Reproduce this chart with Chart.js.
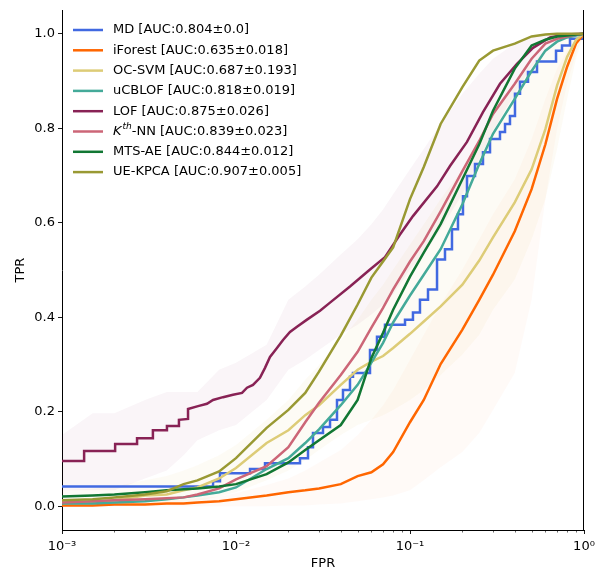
<!DOCTYPE html>
<html>
<head>
<meta charset="utf-8">
<script src="https://cdn.jsdelivr.net/npm/chart.js@4.4.1/dist/chart.umd.min.js"></script>
<style>
  html, body { margin: 0; padding: 0; background: #fff; }
  #wrap { width: 595px; height: 571px; position: relative; }
</style>
</head>
<body>
<div id="wrap"><canvas id="roc"></canvas></div>
<script>
// shared FPR grid for the smooth curves
const fprGrid = [0.001, 0.0015, 0.002, 0.003, 0.004, 0.005, 0.006, 0.008, 0.01, 0.015, 0.02, 0.025, 0.03, 0.04, 0.05, 0.06, 0.07, 0.08, 0.1, 0.12, 0.15, 0.2, 0.25, 0.3, 0.4, 0.5, 0.6, 0.7, 0.8, 0.9, 1.0];

const tprIForest = [0.002, 0.002, 0.004, 0.004, 0.006, 0.006, 0.008, 0.011, 0.015, 0.023, 0.030, 0.034, 0.038, 0.047, 0.064, 0.072, 0.089, 0.115, 0.178, 0.225, 0.301, 0.374, 0.437, 0.490, 0.582, 0.671, 0.766, 0.862, 0.930, 0.979, 1.0];
const tprOcsvm = [0.008, 0.008, 0.013, 0.023, 0.025, 0.034, 0.040, 0.059, 0.081, 0.134, 0.161, 0.193, 0.214, 0.257, 0.289, 0.306, 0.318, 0.335, 0.365, 0.391, 0.423, 0.469, 0.520, 0.569, 0.643, 0.713, 0.798, 0.890, 0.951, 0.987, 1.0];
const tprUcblof = [0.006, 0.006, 0.008, 0.011, 0.015, 0.019, 0.023, 0.030, 0.040, 0.079, 0.102, 0.134, 0.163, 0.214, 0.257, 0.304, 0.346, 0.389, 0.446, 0.490, 0.544, 0.639, 0.724, 0.788, 0.862, 0.921, 0.964, 0.983, 0.992, 0.996, 1.0];
const tprKnn = [0.008, 0.011, 0.013, 0.015, 0.017, 0.019, 0.025, 0.038, 0.057, 0.085, 0.125, 0.178, 0.219, 0.278, 0.327, 0.378, 0.420, 0.459, 0.518, 0.561, 0.624, 0.709, 0.773, 0.830, 0.894, 0.947, 0.979, 0.989, 0.994, 0.998, 1.0];
const tprMtsae = [0.021, 0.023, 0.025, 0.030, 0.034, 0.036, 0.038, 0.042, 0.047, 0.068, 0.093, 0.119, 0.140, 0.172, 0.225, 0.314, 0.367, 0.416, 0.486, 0.537, 0.597, 0.692, 0.766, 0.837, 0.926, 0.975, 0.987, 0.994, 0.996, 0.998, 1.0];
const tprUekpca = [0.013, 0.015, 0.019, 0.025, 0.032, 0.047, 0.055, 0.074, 0.102, 0.166, 0.204, 0.240, 0.285, 0.361, 0.427, 0.484, 0.518, 0.548, 0.650, 0.718, 0.809, 0.887, 0.943, 0.964, 0.979, 0.994, 0.998, 1.0, 1.0, 1.0, 1.0];

// staircase curves have their own points
const fprMd = [0.001, 0.00738, 0.00809, 0.01204, 0.01468, 0.02332, 0.02593, 0.0277, 0.03162, 0.0347, 0.03806, 0.0412, 0.0452, 0.04703, 0.0589, 0.06461, 0.0718, 0.09361, 0.104, 0.1141, 0.1269, 0.143, 0.1589, 0.1743, 0.1887, 0.2016, 0.2126, 0.2364, 0.2627, 0.2883, 0.329, 0.3516, 0.3755, 0.4012, 0.4288, 0.4767, 0.537, 0.6905, 0.7474, 0.8308, 1.0];
const tprMd = [0.042, 0.053, 0.070, 0.079, 0.091, 0.102, 0.125, 0.155, 0.168, 0.183, 0.225, 0.246, 0.274, 0.282, 0.331, 0.359, 0.384, 0.395, 0.410, 0.437, 0.459, 0.522, 0.544, 0.586, 0.618, 0.656, 0.699, 0.724, 0.749, 0.777, 0.792, 0.809, 0.826, 0.873, 0.898, 0.919, 0.941, 0.964, 0.975, 0.989, 1.0];

const fprLof = [0.001, 0.00134, 0.00134, 0.00202, 0.00202, 0.0027, 0.0027, 0.00333, 0.00333, 0.00401, 0.00401, 0.0047, 0.0047, 0.0053, 0.0053, 0.00605, 0.00681, 0.00738, 0.00842, 0.00961, 0.01083, 0.01157, 0.01252, 0.01373, 0.01468, 0.01568, 0.0172, 0.01863, 0.02043, 0.02242, 0.02559, 0.0304, 0.0347, 0.0452, 0.0589, 0.0718, 0.0876, 0.104, 0.143, 0.1698, 0.2126, 0.2627, 0.329, 0.412, 0.5093, 0.6377, 0.7779, 1.0];
const tprLof = [0.096, 0.096, 0.117, 0.117, 0.132, 0.132, 0.144, 0.144, 0.161, 0.161, 0.170, 0.170, 0.183, 0.185, 0.206, 0.212, 0.217, 0.225, 0.231, 0.236, 0.240, 0.251, 0.257, 0.272, 0.293, 0.316, 0.335, 0.352, 0.369, 0.380, 0.395, 0.414, 0.431, 0.465, 0.501, 0.527, 0.575, 0.614, 0.677, 0.720, 0.771, 0.834, 0.894, 0.936, 0.970, 0.992, 0.998, 1.0];

// +/- std bands (on fprGrid)
const lofUpper = [0.151, 0.197, 0.197, 0.225, 0.242, 0.242, 0.242, 0.289, 0.304, 0.342, 0.437, 0.465, 0.490, 0.533, 0.565, 0.597, 0.628, 0.660, 0.713, 0.756, 0.809, 0.873, 0.915, 0.947, 0.979, 0.994, 0.998, 1, 1, 1, 1];
const lofLower = [0.034, 0.034, 0.034, 0.059, 0.076, 0.108, 0.140, 0.161, 0.172, 0.225, 0.289, 0.310, 0.331, 0.363, 0.384, 0.406, 0.427, 0.448, 0.501, 0.533, 0.586, 0.660, 0.735, 0.794, 0.873, 0.930, 0.964, 0.981, 0.992, 0.998, 1];
const iforestUpper = [0.006, 0.006, 0.008, 0.011, 0.013, 0.015, 0.017, 0.021, 0.028, 0.045, 0.059, 0.076, 0.093, 0.119, 0.151, 0.183, 0.214, 0.246, 0.310, 0.363, 0.427, 0.501, 0.565, 0.618, 0.692, 0.777, 0.862, 0.926, 0.964, 0.989, 1];
const iforestLower = [0, 0, 0, 0, 0, 0, 0, 0, 0, 0, 0.002, 0.002, 0.004, 0.006, 0.011, 0.015, 0.019, 0.023, 0.034, 0.055, 0.083, 0.115, 0.155, 0.204, 0.282, 0.437, 0.650, 0.798, 0.894, 0.958, 1];
const ocsvmUpper = [0.034, 0.038, 0.042, 0.055, 0.064, 0.076, 0.087, 0.108, 0.130, 0.183, 0.225, 0.268, 0.299, 0.352, 0.395, 0.437, 0.469, 0.501, 0.554, 0.597, 0.650, 0.713, 0.777, 0.830, 0.894, 0.936, 0.968, 0.985, 0.994, 0.998, 1];
const ocsvmLower = [0, 0, 0, 0.002, 0.004, 0.006, 0.011, 0.021, 0.030, 0.055, 0.076, 0.098, 0.119, 0.151, 0.172, 0.183, 0.193, 0.204, 0.225, 0.246, 0.278, 0.321, 0.363, 0.416, 0.480, 0.565, 0.650, 0.756, 0.862, 0.947, 1];

const labels = ['MD [AUC:0.804±0.0]', 'iForest [AUC:0.635±0.018]', 'OC-SVM [AUC:0.687±0.193]', 'uCBLOF [AUC:0.818±0.019]', 'LOF [AUC:0.875±0.026]', 'K^th-NN [AUC:0.839±0.023]', 'MTS-AE [AUC:0.844±0.012]', 'UE-KPCA [AUC:0.907±0.005]'];
const colors = ['#4169E1', '#FF6600', '#DDCC77', '#44AA99', '#882255', '#CC6677', '#117733', '#999933'];

const xTickValues = [0.001, 0.01, 0.1, 1];
const xTickLabels = ['10⁻³', '10⁻²', '10⁻¹', '10⁰'];
const xMinorTicks = [0.002, 0.003, 0.004, 0.005, 0.006, 0.007, 0.008, 0.009, 0.02, 0.03, 0.04, 0.05, 0.06, 0.07, 0.08, 0.09, 0.2, 0.3, 0.4, 0.5, 0.6, 0.7, 0.8, 0.9];
const yTickValues = [0, 0.2, 0.4, 0.6, 0.8, 1.0];
const yTickLabels = ['0.0', '0.2', '0.4', '0.6', '0.8', '1.0'];

const FONT = '"DejaVu Sans", sans-serif';
Chart.defaults.font.family = FONT;
Chart.defaults.font.size = 13;
Chart.defaults.color = '#000';

const pts = (xs, ys) => xs.map((x, i) => ({ x: x, y: ys[i] }));

const datasets = [];
[
    [lofUpper, lofLower, 'rgba(136,34,85,0.045)'],
    [iforestUpper, iforestLower, 'rgba(255,102,0,0.03)'],
    [ocsvmUpper, ocsvmLower, 'rgba(221,204,119,0.07)'],
].forEach(([up, lo, bg]) => {
    datasets.push({ data: pts(fprGrid, up), borderWidth: 0, pointRadius: 0, fill: '+1', backgroundColor: bg, order: 90 });
    datasets.push({ data: pts(fprGrid, lo), borderWidth: 0, pointRadius: 0, fill: false, order: 90 });
});

const curves = [
    [fprMd, tprMd, 'before'],
    [fprGrid, tprIForest, false],
    [fprGrid, tprOcsvm, false],
    [fprGrid, tprUcblof, false],
    [fprLof, tprLof, false],
    [fprGrid, tprKnn, false],
    [fprGrid, tprMtsae, false],
    [fprGrid, tprUekpca, false],
];
curves.forEach(([xs, ys, stepped], i) => {
    datasets.push({
        label: labels[i],
        data: pts(xs, ys),
        borderColor: colors[i],
        borderWidth: 2.5,
        pointRadius: 0,
        fill: false,
        tension: 0,
        stepped: stepped,
        order: 20 - i,
    });
});

// right spine, minor x ticks and the in-plot legend
const decorations = {
    id: 'decorations',
    afterDraw(chart) {
        const { ctx, chartArea: a, scales } = chart;
        ctx.save();
        ctx.strokeStyle = '#000';
        ctx.lineWidth = 1;
        ctx.beginPath();
        ctx.moveTo(Math.round(a.right) - 0.5, a.top);
        ctx.lineTo(Math.round(a.right) - 0.5, a.bottom);
        ctx.stroke();

        ctx.lineWidth = 0.6;
        xMinorTicks.forEach(v => {
            const px = Math.round(scales.x.getPixelForValue(v)) + 0.5;
            ctx.beginPath();
            ctx.moveTo(px, a.bottom);
            ctx.lineTo(px, a.bottom + 2.5);
            ctx.stroke();
        });

        ctx.textBaseline = 'middle';
        labels.forEach((lab, i) => {
            const y = 30 + i * 20.3;
            ctx.strokeStyle = colors[i];
            ctx.lineWidth = 2.5;
            ctx.beginPath();
            ctx.moveTo(73, y);
            ctx.lineTo(103, y);
            ctx.stroke();
            ctx.fillStyle = '#000';
            let x = 113;
            let text = lab;
            if (lab.startsWith('K^th')) {
                ctx.font = 'italic 13px ' + FONT;
                ctx.fillText('K', x, y);
                x += ctx.measureText('K').width + 1;
                ctx.font = 'italic 9px ' + FONT;
                ctx.fillText('th', x, y - 5);
                x += ctx.measureText('th').width;
                text = lab.slice(4);
            }
            ctx.font = '13px ' + FONT;
            ctx.fillText(text, x, y);
        });
        ctx.restore();
    }
};

new Chart(document.getElementById('roc'), {
    type: 'line',
    data: { datasets: datasets },
    plugins: [decorations],
    options: {
        responsive: true,
        maintainAspectRatio: false,
        animation: false,
        layout: { padding: { top: 10, right: 11, left: 0, bottom: 0 } },
        plugins: {
            legend: { display: false },
            tooltip: { enabled: false },
        },
        scales: {
            x: {
                type: 'logarithmic',
                min: 0.001,
                max: 1,
                afterBuildTicks: s => { s.ticks = xTickValues.map(v => ({ value: v, major: true })); },
                afterFit: s => { s.height = 41; s.paddingLeft = 0; s.paddingRight = 0; },
                ticks: { autoSkip: false, maxRotation: 0, padding: 5, callback: (v, i) => xTickLabels[i] },
                grid: { drawOnChartArea: false, tickLength: 4, tickColor: '#000', tickWidth: 0.9 },
                border: { color: '#000', width: 1 },
                title: { display: true, text: 'FPR', padding: { top: 0, bottom: 0 } },
            },
            y: {
                min: -0.05,
                max: 1.05,
                afterBuildTicks: s => { s.ticks = yTickValues.map(v => ({ value: v })); },
                afterFit: s => { s.width = 62; s.paddingTop = 0; s.paddingBottom = 0; },
                ticks: { padding: 3, callback: (v, i) => yTickLabels[i] },
                grid: { drawOnChartArea: false, tickLength: 4, tickColor: '#000', tickWidth: 0.9 },
                border: { color: '#000', width: 1 },
                title: { display: true, text: 'TPR', padding: { top: 13, bottom: 0 } },
            }
        }
    }
});
</script>
</body>
</html>
